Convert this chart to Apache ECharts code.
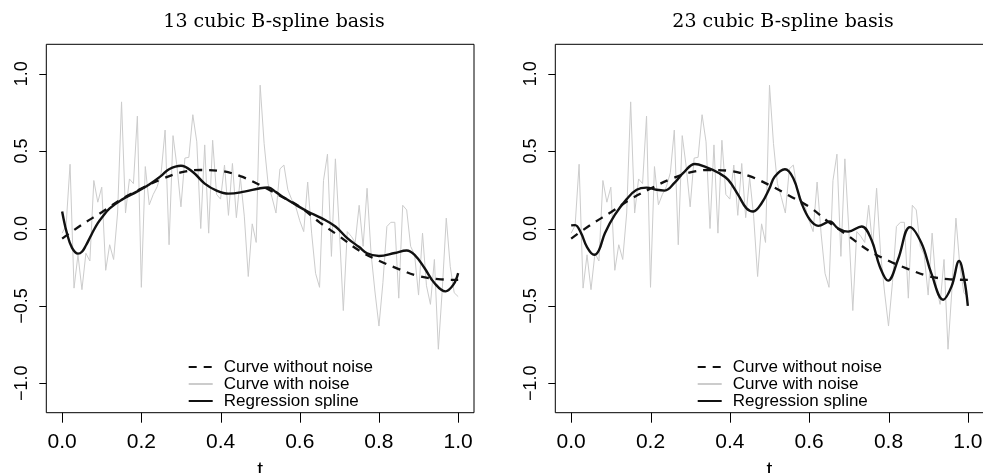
<!DOCTYPE html>
<html><head><meta charset="utf-8">
<script src="https://cdn.jsdelivr.net/npm/echarts@6/dist/echarts.min.js"></script>
<style>html,body{margin:0;padding:0;background:#fff}#c{width:983px;height:473px}</style>
</head><body><div id="c"></div>
<script>
// ---- data ----
const titles = ['13 cubic B-spline basis', '23 cubic B-spline basis'];
const legendNames = ['Curve without noise', 'Curve with noise', 'Regression spline'];
const xTicks = [0, 0.2, 0.4, 0.6, 0.8, 1.0];
const yTicks = [-1, -0.5, 0, 0.5, 1];

// noisy observations at t = 0, 0.01, ..., 1
const noiseY = [
  -0.03, 0.02, 0.415, -0.385, -0.17, -0.395, -0.16, -0.21, 0.31, 0.17,
  0.267, -0.27, -0.105, -0.2, 0.1, 0.818, 0.10, 0.32, 0.29, 0.726,
  -0.38, 0.40, 0.153, 0.22, 0.27, 0.36, 0.636, -0.105, 0.60, 0.40,
  0.14, 0.455, 0.46, 0.735, 0.56, 0.0, 0.54, -0.03, 0.57, 0.22,
  0.19, 0.41, 0.085, 0.42, 0.07, 0.33, 0.08, -0.31, 0.03, -0.09,
  0.926, 0.55, 0.29, 0.20, 0.10, 0.385, 0.41, 0.25, 0.185, 0.14,
  0.05, -0.02, 0.30, -0.03, -0.29, -0.38, 0.31, 0.48, -0.18, 0.45,
  -0.01, -0.53, -0.02, -0.05, -0.09, 0.15, -0.115, 0.26, -0.16, -0.41,
  -0.63, -0.35, 0.013, 0.04, 0.04, -0.45, 0.15, 0.12, -0.115, -0.17,
  -0.43, -0.03, -0.37, -0.49, -0.2, -0.78, -0.39, 0.067, -0.245, -0.415,
  -0.44
];

// true curve (without noise)
const trueT = [0, 0.05, 0.1, 0.15, 0.2, 0.25, 0.3, 0.35, 0.4, 0.45, 0.5, 0.55, 0.6, 0.65, 0.7, 0.75, 0.8, 0.85, 0.9, 0.95, 1.0];
const trueY = [-0.065, 0.025, 0.105, 0.19, 0.258, 0.318, 0.362, 0.378, 0.372, 0.338, 0.28, 0.212, 0.14, 0.04, -0.05, -0.142, -0.208, -0.262, -0.307, -0.327, -0.332];

// regression spline, 13 basis
const spline13T = [0, 0.012, 0.025, 0.04, 0.05, 0.06, 0.07, 0.08, 0.09, 0.1, 0.12, 0.15, 0.19, 0.22, 0.25, 0.27, 0.3, 0.33, 0.36, 0.39, 0.42, 0.46, 0.5, 0.52, 0.54, 0.56, 0.59, 0.62, 0.655, 0.69, 0.72, 0.75, 0.77, 0.8, 0.84, 0.87, 0.89, 0.915, 0.94, 0.968, 0.988, 1.0];
const spline13Y = [0.11, -0.03, -0.125, -0.162, -0.15, -0.11, -0.06, -0.01, 0.035, 0.07, 0.13, 0.185, 0.24, 0.285, 0.34, 0.383, 0.405, 0.365, 0.29, 0.245, 0.225, 0.238, 0.26, 0.265, 0.235, 0.2, 0.153, 0.11, 0.067, 0.013, -0.062, -0.12, -0.16, -0.178, -0.158, -0.142, -0.17, -0.255, -0.352, -0.406, -0.363, -0.288];

// regression spline, 23 basis
const spline23T = [0, 0.01, 0.025, 0.04, 0.058, 0.07, 0.085, 0.11, 0.14, 0.165, 0.19, 0.215, 0.236, 0.261, 0.282, 0.312, 0.337, 0.371, 0.396, 0.421, 0.442, 0.459, 0.48, 0.5, 0.513, 0.539, 0.56, 0.581, 0.602, 0.623, 0.652, 0.673, 0.698, 0.732, 0.757, 0.778, 0.799, 0.824, 0.854, 0.883, 0.908, 0.938, 0.959, 0.978, 0.991, 1.0];
const spline23Y = [0.02, 0.022, -0.03, -0.12, -0.17, -0.14, -0.03, 0.088, 0.19, 0.25, 0.264, 0.25, 0.245, 0.296, 0.357, 0.417, 0.40, 0.36, 0.314, 0.217, 0.13, 0.11, 0.163, 0.26, 0.335, 0.383, 0.325, 0.163, 0.056, 0.017, 0.045, 0.0, -0.02, 0.013, -0.073, -0.245, -0.337, -0.2, 0.009, -0.094, -0.29, -0.46, -0.374, -0.21, -0.33, -0.50];

// ---- chart ----
const SANS = 'Liberation Sans, Arial, Helvetica, sans-serif';
const SERIF = 'DejaVu Serif, serif';
const pair = (ts, ys) => ts.map((t, i) => [t, ys[i]]);
const noiseData = noiseY.map((v, i) => [i / (noiseY.length - 1), v]);
const fmt = v => { const r = Math.round(v * 10) / 10; const s = Math.abs(r).toFixed(1); return r < 0 ? '\u2212' + s : s; };

const X_MIN = -0.04, X_MAX = 1.04, Y_MIN = -1.19, Y_MAX = 1.19;
const X_TICK_LEN = 10, Y_TICK_LEN = 7;
const mainGrids = [
  { left: 46.3, top: 44.3, width: 427.7, height: 368.4 },
  { left: 555.3, top: 44.3, width: 428.4, height: 368.4 }
];
const ppuX = g => g.width / (X_MAX - X_MIN);
const ppuY = g => g.height / (Y_MAX - Y_MIN);
// label strips (t axis below, value axis left), spanning 0..1 and -1..1 only
const labXGrids = mainGrids.map(g => ({ left: g.left - X_MIN * ppuX(g), width: ppuX(g), top: g.top + g.height, height: X_TICK_LEN }));
const labYGrids = mainGrids.map(g => ({ left: g.left - Y_TICK_LEN, width: Y_TICK_LEN, top: g.top + (Y_MAX - 1) * ppuY(g), height: 2 * ppuY(g) }));

// tick marks derived from the same panel layout and axis ranges
const tickEls = [];
mainGrids.forEach(g => {
  const bottom = g.top + g.height;
  xTicks.forEach(v => {
    const px = Math.round(g.left + (v - X_MIN) * ppuX(g)) + 0.5;
    tickEls.push({ type: 'line', silent: true, z: 100, zlevel: 0,
      shape: { x1: px, y1: bottom, x2: px, y2: bottom + X_TICK_LEN },
      style: { stroke: '#000000', lineWidth: 1, fill: null } });
  });
  yTicks.forEach(v => {
    const py = Math.round(g.top + (Y_MAX - v) * ppuY(g)) + 0.5;
    tickEls.push({ type: 'line', silent: true, z: 100, zlevel: 0,
      shape: { x1: g.left - Y_TICK_LEN, y1: py, x2: g.left, y2: py },
      style: { stroke: '#000000', lineWidth: 1, fill: null } });
  });
});

const splines = [pair(spline13T, spline13Y), pair(spline23T, spline23Y)];
const legendLeft = [187.7, 696.7];
const titleX = [269, 778];

const gridBase = { containLabel: false, outerBoundsMode: 'none' };
const hidden = (gridIndex, min, max) => ({ gridIndex, type: 'value', min, max, show: false });
const option = {
  backgroundColor: '#fff',
  animation: false,
  title: titles.map((t, k) => ({
    text: t, left: titleX[k], top: 8, textAlign: 'center',
    textStyle: { fontFamily: SERIF, fontSize: 19, fontWeight: 'normal', color: '#000' }
  })),
  grid: [
    ...mainGrids.map(g => Object.assign({ show: true, borderColor: '#000', borderWidth: 1, backgroundColor: 'transparent' }, gridBase, g)),
    ...labXGrids.map(g => Object.assign({ show: false }, gridBase, g)),
    ...labYGrids.map(g => Object.assign({ show: false }, gridBase, g))
  ],
  graphic: { elements: tickEls },
  legend: legendLeft.map(l => ({
    data: legendNames, orient: 'vertical', left: l, top: 358.5, padding: 0,
    itemWidth: 24, itemHeight: 16, itemGap: 0, selectedMode: false,
    itemStyle: { color: 'rgba(0,0,0,0)', borderColor: 'rgba(0,0,0,0)', borderWidth: 0 },
    textStyle: { fontFamily: SANS, fontSize: 17, lineHeight: 16, color: '#000', padding: [0, 0, 0, 6] }
  })),
  xAxis: [
    hidden(0, X_MIN, X_MAX), hidden(1, X_MIN, X_MAX),
    ...[0, 1].map(k => ({
      gridIndex: 2 + k, type: 'value', min: 0, max: 1, interval: 0.2, position: 'bottom',
      splitLine: { show: false }, axisLine: { show: false }, axisTick: { show: false },
      axisLabel: { formatter: fmt, fontFamily: SANS, fontSize: 21, color: '#000', margin: 9, showMinLabel: true, showMaxLabel: true },
      name: 't', nameLocation: 'middle', nameGap: 37,
      nameTextStyle: { fontFamily: SANS, fontSize: 21, color: '#000' }
    })),
    hidden(4, 0, 1), hidden(5, 0, 1)
  ],
  yAxis: [
    hidden(0, Y_MIN, Y_MAX), hidden(1, Y_MIN, Y_MAX),
    hidden(2, 0, 1), hidden(3, 0, 1),
    ...[0, 1].map(k => ({
      gridIndex: 4 + k, type: 'value', min: -1, max: 1, interval: 0.5, position: 'left',
      splitLine: { show: false }, axisLine: { show: false }, axisTick: { show: false },
      axisLabel: { formatter: fmt, rotate: 90, fontFamily: SANS, fontSize: 18, color: '#000', margin: 8, showMinLabel: true, showMaxLabel: true }
    }))
  ],
  series: []
};

[0, 1].forEach(k => {
  option.series.push({
    name: legendNames[1], type: 'line', xAxisIndex: k, yAxisIndex: k, data: noiseData,
    symbol: 'none', lineStyle: { color: '#cccccc', width: 1 }, itemStyle: { color: '#cccccc' }, z: 1
  });
  option.series.push({
    name: legendNames[0], type: 'line', xAxisIndex: k, yAxisIndex: k, data: pair(trueT, trueY),
    symbol: 'none', smooth: 0.4, lineStyle: { color: '#111', width: 2.3, type: [8, 7] }, itemStyle: { color: '#111' }, z: 2
  });
  option.series.push({
    name: legendNames[2], type: 'line', xAxisIndex: k, yAxisIndex: k, data: splines[k],
    symbol: 'none', smooth: 0.4, lineStyle: { color: '#111', width: 2.4 }, itemStyle: { color: '#111' }, z: 3
  });
});

const chart = echarts.init(document.getElementById('c'), null, { renderer: 'canvas' });
chart.setOption(option);
</script>
</body></html>
